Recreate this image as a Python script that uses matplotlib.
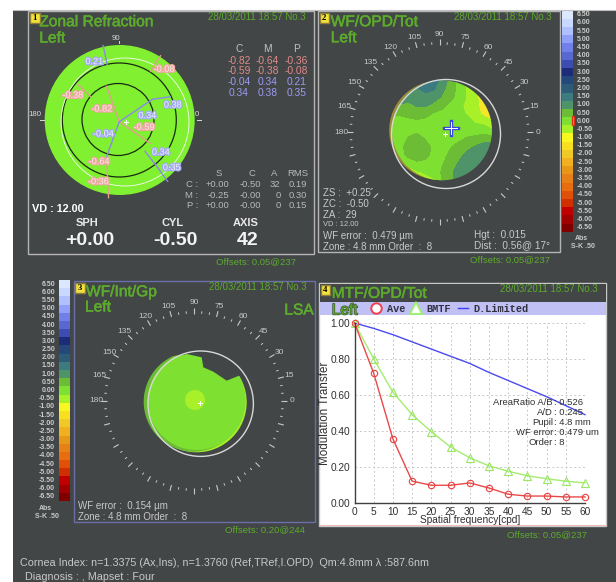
import numpy as np
import matplotlib
matplotlib.use("Agg")
import matplotlib.pyplot as plt
from matplotlib import font_manager as fm
from matplotlib.patches import Rectangle, Circle, Polygon
import matplotlib.patheffects as pe
from matplotlib.colors import ListedColormap

plt.rcParams['font.family'] = ['Liberation Sans', 'DejaVu Sans']
try:
    fm.findfont('Liberation Sans Narrow', fallback_to_default=False)
    TITLE_FONT, TITLE_SIZE = 'Liberation Sans Narrow', 13.5
except ValueError:
    TITLE_FONT, TITLE_SIZE = 'Liberation Sans', 11.2

# ---------- data ----------
freq = [0, 5, 10, 15, 20, 25, 30, 35, 40, 45, 50, 55, 60]
ave = [1.0, .72, .355, .12, .097, .097, .11, .082, .047, .037, .037, .032, .032]
bmtf = [1.0, .80, .615, .49, .395, .31, .25, .205, .175, .15, .133, .12, .11]
dlim = [1.0, .97, .935, .895, .855, .815, .775, .725, .68, .635, .59, .54, .49]

cbar_vals = [6.5, 6, 5.5, 5, 4.5, 4, 3.5, 3, 2.5, 2, 1.5, 1, .5, 0, -.5, -1, -1.5, -2, -2.5,
             -3, -3.5, -4, -4.5, -5, -5.5, -6, -6.5]
cbar_cols = ['#dce8ff', '#c8d8ff', '#b0c0ff', '#90a0f8', '#7080e8', '#5868d0', '#3c4cb0', '#1c2c78',
             '#24487c', '#2c5c78', '#3c7c80', '#4f9468', '#6cbd35', '#7ee030', '#a8f028', '#f8f820',
             '#f8e020', '#f0c828', '#f0b020', '#e89818', '#e88018', '#e86c10', '#e05008', '#d03000',
             '#c00000', '#a00000', '#800000']

zonal_head = ['C', 'M', 'P']
zonal_rows = [['-0.82', '-0.64', '-0.36'], ['-0.59', '-0.38', '-0.08'],
              ['-0.04', '0.34', '0.21'], ['0.34', '0.38', '0.35']]
sc_head = ['S', 'C', 'A', 'RMS']
sc_rows = [['C :', '+0.00', '-0.50', '32', '0.19'],
           ['M :', '-0.25', '-0.00', '0', '0.30'],
           ['P :', '+0.00', '-0.00', '0', '0.15']]

# wavefront map 2: level read on a coarse grid, top row first
wf_tot = np.array([
    [1, 1, 1, 1.2, 1.6, 1.6, 1.0, .6, .1, -.3, -.6, -.6, -.6],
    [1, 1, 1, 1.2, 1.4, 1.3, .9, .5, .1, -.3, -.6, -.8, -1],
    [1, 1, 1, 1.1, 1.1, 1.0, .7, .4, .05, -.3, -.6, -1.1, -1.2],
    [.7, .7, .6, .8, .8, .6, .4, .1, -.1, -.4, -.6, -1.0, -1.3],
    [.3, .3, .4, .5, .4, .2, .1, 0, -.1, -.3, -.5, -.9, -1.2],
    [.1, .1, .1, .15, .1, 0, 0, 0, 0, -.1, -.3, -.4, -.6],
    [0, 0, .1, .1, 0, 0, 0, 0, 0, 0, 0, 0, -.2],
    [0, 0, .3, .5, .2, 0, 0, 0, .1, .3, .4, .5, .5],
    [0, .1, .5, .7, .5, .1, 0, .2, .5, .6, .8, 1, 1],
    [-.1, .05, .4, .6, .4, .1, 0, .4, .6, .9, 1.1, 1.1, 1.1],
    [-.8, -.4, -.1, .1, .1, 0, .2, .5, .8, 1.1, 1.2, 1.2, 1.2],
    [-1, -.8, -.5, -.3, -.2, -.1, .3, .6, 1.0, 1.2, 1.2, 1.2, 1.2],
    [-1, -1, -.8, -.6, -.4, -.3, .3, .6, 1.0, 1.2, 1.2, 1.2, 1.2]])

# zonal meridians: r start, r end, angle start, angle end
red_segs = [(0, 38, 110, 110), (0, 38, 325, 325), (37, 56, 139, 138), (37, 57, 250, 258),
            (57, 77, 258, 262), (59, 78, 58, 58)]
blue_segs = [(0, 40, 34, 34), (40, 57, 34, 26), (39, 58, 311, 310), (58, 77, 310, 309),
             (58, 78, 102, 102), (0, 37, 250, 250)]
red_labels = ['-0.08', '-0.38', '-0.82', '-0.59', '-0.64', '-0.36']
blue_labels = ['0.21', '0.38', '0.34', '-0.04', '0.34', '0.35']

# ---------- canvas (pixel coordinates) ----------
BG = '#434647'
GREEN = '#5cab2c'
TXT = '#c8c8c8'
fig = plt.figure(figsize=(6.16, 5.82), dpi=100, facecolor='white')
ax = fig.add_axes([0, 0, 1, 1], zorder=0)
ax.set_xlim(0, 616)
ax.set_ylim(582, 0)
ax.axis('off')
ax.add_patch(Rectangle((13, 9.5), 603, 573, fc=BG, ec='none'))
ax.plot([13, 616], [9.5, 9.5], color='#c0c0c0', lw=0.8)


def frame(x0, y0, x1, y1, col):
    ax.add_patch(Rectangle((x0, y0), x1 - x0, y1 - y0, fc='none', ec=col, lw=1.0))


def badge(x0, y0, s):
    ax.add_patch(Rectangle((x0, y0), 9.5, 10, fc='#f2e23a', ec='#8f7f38', lw=1.0, zorder=5))
    ax.text(x0 + 4.8, y0 + 5, s, color='black', fontsize=6.3, weight='bold', family='Liberation Serif',
            ha='center', va='center', zorder=6)


def T(x, y, s, size=7, color=TXT, ha='left', weight='normal', **kw):
    return ax.text(x, y, s, fontsize=size, color=color, ha=ha, va='center', weight=weight, **kw)


def TT(x, y, s, stroke='#5cab2c', width=0.4):
    return T(x, y, s, size=TITLE_SIZE, color=GREEN, family=TITLE_FONT,
             path_effects=[pe.withStroke(linewidth=width, foreground=stroke)])


def pol(cx, cy, r, a):
    a = np.deg2rad(a)
    return cx + r * np.cos(a), cy - r * np.sin(a)


def dial(cx, cy):
    for a in range(0, 360, 5):
        if a % 15 == 0:
            r0, r1, lw = 87, 93, 0.8
        else:
            r0, r1, lw = 87.5, 90, 0.7
        x0, y0 = pol(cx, cy, r0, a)
        x1, y1 = pol(cx, cy, r1, a)
        ax.plot([x0, x1], [y0, y1], color='#c8c8c8', lw=lw, solid_capstyle='butt')
    for a in range(0, 181, 15):
        x, y = pol(cx, cy, 98, a)
        T(x, y, str(a), size=6, ha='center', color='#c8c8c8')


def whitecross(x, y):
    ax.plot([x - 2, x + 2], [y, y], color='white', lw=0.7)
    ax.plot([x, x], [y - 2, y + 2], color='white', lw=0.7)


def colorbar(x0, x1, y0, y1, lab_x, lab_ha):
    edges = np.linspace(y0, y1, len(cbar_vals) + 1)
    ax.pcolormesh([x0, x1], edges, np.arange(len(cbar_vals)).reshape(-1, 1),
                  cmap=ListedColormap(cbar_cols), shading='flat')
    for v, e0, e1 in zip(cbar_vals, edges[:-1], edges[1:]):
        T(lab_x, (e0 + e1) / 2, f'{v:.2f}', size=5, ha=lab_ha, weight='bold', color='#cccccc')


# ---------- panel 1 ----------
frame(28, 10.5, 314, 254, '#b4b4b4')
badge(30, 12.8, '1')
TT(39.3, 21.7, 'Zonal Refraction')
TT(39.3, 38, 'Left')
T(208, 17.3, '28/03/2011 18:57 No.3', size=7, color=GREEN)
ax.add_patch(Circle((119.7, 120), 75, fc='#80f030', ec='none'))
ax.add_patch(Circle((119.3, 120), 57, fc='none', ec='#1a2a10', lw=0.9))
ax.add_patch(Circle((118, 119.5), 36, fc='none', ec='#1a2a10', lw=0.9))
ax.add_patch(Circle((125, 122), 64, fc='none', ec='#e8f8e0', lw=0.7))
for segs, col in ((red_segs, '#e0a090'), (blue_segs, '#8a8ae8')):
    for r0, r1, a0, a1 in segs:
        x0, y0 = pol(119.3, 121.7, r0, a0)
        x1, y1 = pol(119.3, 121.7, r1, a1)
        ax.plot([x0, x1], [y0, y1], color=col, lw=1.0, solid_capstyle='round')
whitecross(126, 122)
red_xy = [(164, 69.3), (72.7, 95.3), (101.7, 109), (144, 127.3), (99, 161.7), (98.3, 181.7)]
blue_xy = [(94.3, 61.7), (172.7, 105), (147.3, 115.7), (103.3, 134), (160.7, 152.3), (171.7, 167.7)]
for (x, y), s in zip(red_xy, red_labels):
    T(x, y, s, size=6.6, ha='center', color='#ffe8e4',
      path_effects=[pe.withStroke(linewidth=1.8, foreground='#eda8a4')])
for (x, y), s in zip(blue_xy, blue_labels):
    T(x, y, s, size=6.6, ha='center', color='#eef0ff',
      path_effects=[pe.withStroke(linewidth=1.8, foreground='#a4aaf0')])
T(115.7, 38.3, '90', size=5.6, ha='center', color='#d8d8d8')
T(35, 114, '180', size=5.6, ha='center', color='#d8d8d8')
T(197, 114, '0', size=5.6, ha='center', color='#d8d8d8')
ax.plot([39.5, 44], [120, 120], color='#d8d8d8', lw=0.7)
ax.plot([196.5, 201], [120, 120], color='#d8d8d8', lw=0.7)
ax.plot([119.3, 119.3], [40.5, 43], color='#d8d8d8', lw=0.7)
zx = [239, 267.3, 296.3]
for x, s in zip(zx, zonal_head):
    T(x, 49.3, s, size=7.4, ha='center', color='#c0c0c0')
row_y = [60.7, 71.3, 82.3, 93]
for y, row, col in zip(row_y, zonal_rows, ['#e08a8a', '#e08a8a', '#9a9af0', '#9a9af0']):
    for x, s in zip(zx, row):
        T(x, y, s, size=7.4, ha='center', color=col)
for x, s in zip([219, 251.7, 274, 297.7], sc_head):
    T(x, 174, s, size=6.8, ha='center', color='#b8b8b8')
for y, row in zip([184.7, 195.3, 206], sc_rows):
    for x, s in zip([198, 229.3, 261.3, 280.7, 307.3], row):
        T(x, y, s, size=6.8, ha='right', color='#b8b8b8')
T(32.3, 209.3, 'VD : 12.00', size=7.8, color='white', weight='bold')
for x, s in zip([87.3, 172.7, 246], ['SPH', 'CYL', 'AXIS']):
    T(x, 222.7, s, size=8, color='#e8e8e8', ha='center', weight='bold')
for x, s in zip([90, 175.7, 248], ['+0.00', '-0.50', '42']):
    T(x, 240.7, s, size=14, color='#f4f4f4', ha='center', weight='bold')
T(216, 261.7, 'Offsets: 0.05@237', size=6.8, color=GREEN)

# ---------- panel 2 ----------
frame(318, 10.5, 560, 252, '#b4b4b4')
badge(319.5, 12.8, '2')
TT(330.7, 21.7, 'WF/OPD/Tot')
TT(330.7, 37.7, 'Left')
T(454, 17.3, '28/03/2011 18:57 No.3', size=7, color=GREEN)
dial(439.5, 132)
ax.add_patch(Circle((438.7, 130.3), 49.5, fc='#9c8c3a', ec='none'))
gx = 320 + np.linspace(216, 516, 13) / 3
gy = np.linspace(241, 541, 13) / 3
levels = [-3, -.75, -.25, .25, .75, 1.25, 2]
map_cols = ['#f5e62a', '#a8f028', '#7ee030', '#6cbd35', '#4f9468', '#3c7c80']
cs = ax.contourf(gx, gy, wf_tot, levels=levels, colors=map_cols)
disc2 = Circle((442, 130.3), 50, transform=ax.transData, fc='none', ec='none')
ax.add_patch(disc2)
cs.set_clip_path(disc2)
ax.add_patch(Circle((446, 134), 54.5, fc='none', ec='#d8d8d8', lw=1.0))
ax.plot([444, 458], [128, 128], color='#3a48e0', lw=2.4)
ax.plot([451, 451], [121, 135], color='#3a48e0', lw=2.4)
ax.plot([445, 457], [128, 128], color='white', lw=0.7)
ax.plot([451, 451], [122, 134], color='white', lw=0.7)
whitecross(445, 133.7)
T(323.3, 193, 'ZS :  +0.25', size=7)
T(323.3, 204, 'ZC :  -0.50', size=7)
T(323.3, 215, 'ZA :  29', size=7)
T(323.3, 224, 'VD : 12.00', size=5.4)
T(323, 236, 'WF error :  0.479 \u00b5m', size=7)
T(323, 247, 'Zone : 4.8 mm Order  :  8', size=7)
T(474.3, 234.7, 'Hgt :  0.015', size=7.2)
T(474.3, 245.3, 'Dist :  0.56@ 17\u00b0', size=7.2)
T(470, 260, 'Offsets: 0.05@237', size=6.8, color=GREEN)
colorbar(562, 572.7, 10.7, 231.7, 577, 'left')
ax.add_patch(Rectangle((572, 116), 2.4, 9, fc='#f0a030', ec='#e03018', lw=0.9))
T(581.7, 238, 'Abs', size=5, ha='center', weight='bold')
T(582.7, 247, 'S-K .50', size=5, ha='center', weight='bold')

# ---------- panel 3 ----------
frame(73.5, 280.5, 314.5, 522, '#6a6fa8')
badge(75, 282.7, '3')
TT(86, 291.7, 'WF/Int/Gp')
TT(85, 307, 'Left')
TT(284.3, 310, 'LSA')
T(209, 287.3, '28/03/2011 18:57 No.3', size=7, color=GREEN)
dial(194, 401)
ax.add_patch(Circle((196.7, 402.3), 50, fc='#a8f028', ec='none'))
ax.add_patch(Circle((193.7, 401.7), 50, fc='#6cbd35', ec='none'))
ax.add_patch(Circle((196.7, 401), 49, fc='#7ee030', ec='none'))
ax.add_patch(Circle((195, 400), 10, fc='#a8f028', ec='none'))
notch_x = np.array([500, 510, 550, 560, 605, 610, 640, 680, 722, 770, 700]) / 3
notch_y = 270 + np.array([235, 258, 255, 252, 262, 292, 305, 332, 315, 290, 215]) / 3
ax.add_patch(Polygon(np.column_stack([notch_x, notch_y]), fc=BG, ec='none'))
ax.add_patch(Circle((200.7, 403.7), 52.7, fc='none', ec='#d8d8d8', lw=1.0))
whitecross(200, 403.3)
T(77.7, 506, 'WF error :  0.154 \u00b5m', size=7)
T(77.7, 516.7, 'Zone : 4.8 mm Order  :  8', size=7)
T(225, 529.3, 'Offsets: 0.20@244', size=6.8, color=GREEN)
colorbar(59, 69.7, 280, 501, 55, 'right')
T(45, 508, 'Abs', size=5, ha='center', weight='bold')
T(47, 516, 'S-K .50', size=5, ha='center', weight='bold')

# ---------- panel 4 ----------
ax.add_patch(Rectangle((319.3, 283), 287, 243, fc='white', ec='#c8c8c8', lw=1.0))
ax.add_patch(Rectangle((320, 283.5), 286, 18.5, fc=BG, ec='none'))
ax.add_patch(Rectangle((320, 302), 286, 13, fc='#c0c0f5', ec='none'))
ax.plot([320, 606], [525.2, 525.2], color='#f0c0c0', lw=0.8)
badge(320.7, 284.5, '4')
TT(331.7, 293.3, 'MTF/OPD/Tot')
T(500, 289.3, '28/03/2011 18:57 No.3', size=7, color=GREEN)
TT(331.7, 310, 'Left', stroke='#3c5a2a', width=1.0)
ax.plot([376], [308.3], marker='o', ms=7.5, mfc='white', mec='#f04050', mew=1.4, ls='none')
ax.plot([416], [307.8], marker='^', ms=8.5, mfc='white', mec='#a0f070', mew=1.4, ls='none')
ax.plot([457.7, 468.3], [308.3, 308.3], color='#3c3cf0', lw=1.0)
for x, s in zip([386.7, 426.7, 473.3], ['Ave', 'BMTF', 'D.Limited']):
    T(x, 308.5, s, size=7.4, color='#303040', weight='bold', family='Liberation Mono')

m = fig.add_axes([354.5 / 616, 1 - 502.7 / 582, (585 - 354.5) / 616, (502.7 - 323) / 582],
                 zorder=2, facecolor='none')
m.set_xlim(0, 60)
m.set_ylim(0, 1)
m.set_xticks(freq)
m.set_yticks([0, .2, .4, .6, .8, 1.0])
m.set_yticklabels(['0.00', '0.20', '0.40', '0.60', '0.80', '1.00'])
m.grid(True, color='#c8c8c8', ls=(0, (2, 2.5)), lw=0.7)
for s in ('top', 'right'):
    m.spines[s].set_visible(False)
for s in ('left', 'bottom'):
    m.spines[s].set_color('#404040')
    m.spines[s].set_linewidth(1.0)
m.tick_params(length=0, labelsize=7.3, colors='#303030', pad=3)
m.plot(freq, dlim, color='#4a4af0', lw=1.0, clip_on=False)
m.plot(freq, bmtf, color='#a4ec70', lw=1.0, marker='^', ms=5.5, mfc='none', mec='#98e864', mew=0.8, clip_on=False)
m.plot(freq, ave, color='#ea4848', lw=1.0, marker='o', ms=4.6, mfc='none', mec='#e84040', mew=0.8, clip_on=False)
m.set_xlabel('Spatial frequency[cpd]', fontsize=7.3, color='#303030', labelpad=-1)
fig.text(325 / 616, 1 - 413 / 582, 'Modulation Transfer', rotation=90, fontsize=8.4, color='#303030',
         ha='center', va='center', zorder=3)
info_l = ['AreaRatio A/B', 'A/D', 'Pupil', 'WF error', 'Order']
info_v = ['0.526', '0.245', '4.8 mm', '0.479 um', '8']
for y, a, b in zip([402.7, 412.7, 422.7, 432.3, 442.3], info_l, info_v):
    fig.text(553 / 616, 1 - y / 582, a, fontsize=6.8, color='#303030', ha='right', va='center', zorder=3)
    fig.text(554.5 / 616, 1 - y / 582, ': ' + b, fontsize=6.8, color='#303030', ha='left', va='center', zorder=3)
T(507, 534.5, 'Offsets: 0.05@237', size=6.8, color=GREEN)

# ---------- footer ----------
T(20, 563, 'Cornea Index: n=1.3375 (Ax,Ins), n=1.3760 (Ref,TRef,I.OPD)  Qm:4.8mm \u03bb :587.6nm', size=7.75)
T(25.3, 576.7, 'Diagnosis : , Mapset : Four', size=7.75)

fig.savefig('out.png', dpi=100, facecolor='white')
